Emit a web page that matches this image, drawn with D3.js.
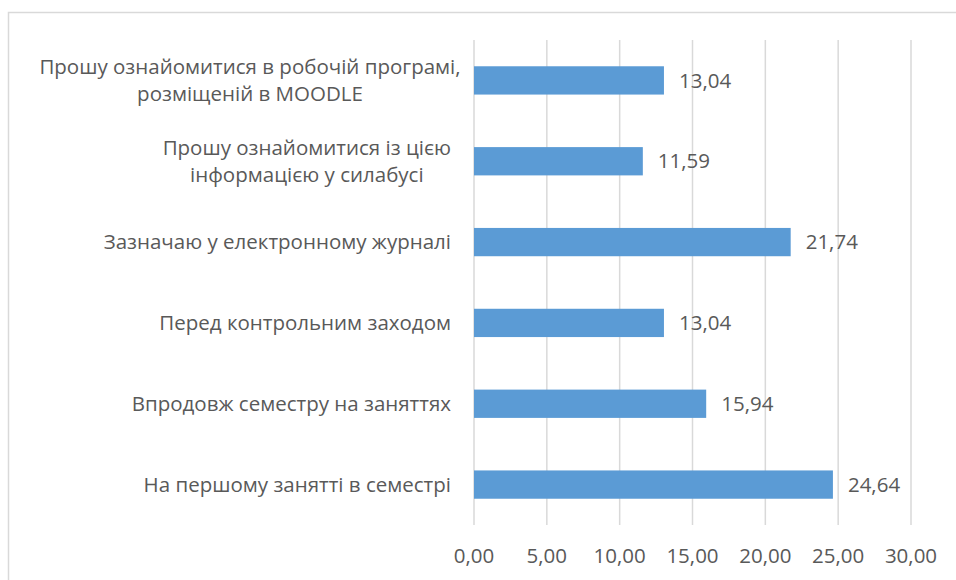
<!DOCTYPE html>
<html>
<head>
<meta charset="utf-8">
<script src="https://cdn.jsdelivr.net/npm/d3@7"></script>
<style>
  body { margin: 0; background: #fff; }
  text { font-family: "Open Sans", "Noto Sans", sans-serif; fill: #595959; }
</style>
</head>
<body>
<script>
// categories, top to bottom as drawn
var categories = [
  ["Прошу ознайомитися в робочій програмі,", "розміщеній в MOODLE"],
  ["Прошу ознайомитися із цією", "інформацією у силабусі"],
  ["Зазначаю у електронному журналі"],
  ["Перед контрольним заходом"],
  ["Впродовж семестру на заняттях"],
  ["На першому занятті в семестрі"]
];
var values = [13.04, 11.59, 21.74, 13.04, 15.94, 24.64];
var ticks = [0, 5, 10, 15, 20, 25, 30];

var width = 956,
    height = 580;

var svg = d3.select("body")
  .append("svg")
  .attr("width", width)
  .attr("height", height);

// chart frame (clipped at right and bottom)
svg.append("rect")
  .attr("x", 8.5)
  .attr("y", 12.5)
  .attr("width", 1000)
  .attr("height", 1000)
  .attr("fill", "none")
  .attr("stroke", "#d9d9d9")
  .attr("stroke-width", 1.5);

var x = d3.scaleLinear()
  .domain([0, 30])
  .range([474, 911]);

var y = d3.scaleBand()
  .domain(d3.range(categories.length))
  .range([40, 525])
  .paddingInner(0.65)
  .paddingOuter(0.325);

var fmt = function(v){ return d3.format(".2f")(v).replace(".", ","); };

// vertical gridlines
svg.append("g")
  .selectAll("line")
  .data(ticks)
  .enter()
  .append("line")
  .attr("x1", function(d){ return x(d); })
  .attr("x2", function(d){ return x(d); })
  .attr("y1", 40)
  .attr("y2", 525)
  .attr("stroke", "#d9d9d9")
  .attr("stroke-width", 1.5);

// tick labels
svg.append("g")
  .selectAll("text")
  .data(ticks)
  .enter()
  .append("text")
  .attr("x", function(d){ return x(d); })
  .attr("y", 556)
  .attr("dy", "0.35em")
  .attr("text-anchor", "middle")
  .style("font-size", "20.5px")
  .text(fmt);

// bars
svg.append("g")
  .selectAll("rect")
  .data(values)
  .enter()
  .append("rect")
  .attr("x", x(0))
  .attr("y", function(d, i){ return y(i); })
  .attr("width", function(d){ return x(d) - x(0); })
  .attr("height", y.bandwidth())
  .attr("fill", "#5b9bd5");

// value labels
svg.append("g")
  .selectAll("text")
  .data(values)
  .enter()
  .append("text")
  .attr("x", function(d){ return x(d) + 15; })
  .attr("y", function(d, i){ return y(i) + y.bandwidth() / 2; })
  .attr("dy", "0.35em")
  .style("font-size", "20.5px")
  .text(fmt);

// category labels: block right aligned, lines centred inside it
var rightEdge = 451,
    lineH = 27;

categories.forEach(function(lines, i){
  var cy = y(i) + y.bandwidth() / 2;
  var g = svg.append("g");
  var t = g.selectAll("text")
    .data(lines)
    .enter()
    .append("text")
    .attr("y", function(d, j){ return cy + (j - (lines.length - 1) / 2) * lineH; })
    .attr("dy", "0.35em")
    .attr("text-anchor", "middle")
    .style("font-size", "20.5px")
    .text(function(d){ return d; });
  var w = d3.max(t.nodes(), function(n){ return n.getComputedTextLength(); });
  t.attr("x", Math.max(rightEdge - w / 2, 250));
});
</script>
</body>
</html>
